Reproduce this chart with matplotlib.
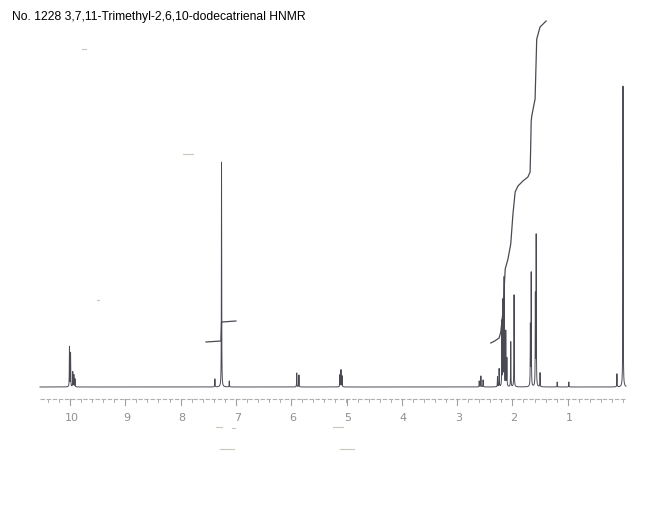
import numpy as np
import matplotlib
matplotlib.use("Agg")
import matplotlib.pyplot as plt

title = "No. 1228 3,7,11-Trimethyl-2,6,10-dodecatrienal HNMR"

# peak positions (ppm) and heights (arbitrary units, baseline = 0)
peak_ppm = [10.01, 9.99, 9.95, 9.93, 9.91,
            7.38, 7.26, 7.12,
            5.90, 5.86,
            5.12, 5.10, 5.08,
            2.60, 2.57, 2.53,
            2.27, 2.24,
            2.19, 2.17, 2.15, 2.12, 2.10,
            2.03, 1.97,
            1.675, 1.66, 1.585, 1.57, 1.50,
            1.19, 0.98, 0.11, 0.00]
peak_height = [40, 34, 15, 12, 8,
               8, 225, 6,
               14, 12,
               12, 17, 11,
               6, 11, 7,
               10, 18,
               65, 85, 108, 55, 28,
               45, 92,
               60, 113, 90, 150, 14,
               5, 5, 13, 301]

# integral curve (ppm, height)
integ_ppm = [2.39, 2.32, 2.24, 2.21, 2.17, 2.13, 2.08, 2.03, 1.99, 1.95, 1.90,
             1.81, 1.72, 1.68, 1.67, 1.66, 1.65, 1.59, 1.57, 1.56, 1.50, 1.39]
integ_height = [44, 46, 49, 55, 76, 118, 128, 143, 173, 195, 201,
                206, 210, 215, 238, 266, 271, 288, 328, 348, 360, 366]

integ2_ppm = [7.54, 7.27, 7.26, 7.25, 7.00]
integ2_height = [45, 46, 65, 65, 66]

tick_major = [10, 9, 8, 7, 6, 5, 4, 3, 2, 1]

W, H = 650, 506
fig = plt.figure(figsize=(W / 100, H / 100), dpi=100)
ax = fig.add_axes([0, 0, 1, 1])
ppm_per_px = 1 / 55.3
x_left = 10 + 70 * ppm_per_px
x_right = 10 - (W - 70) * ppm_per_px
ax.set_xlim(x_left, x_right)
ax.set_ylim(388 - H, 388)
ax.axis("off")

ppm_lo = 10 + 30 * ppm_per_px
ppm_hi = 10 - 556 * ppm_per_px
x = np.linspace(ppm_lo, ppm_hi, 40000)
y = np.zeros_like(x)
w = 0.0028
for p, h in zip(peak_ppm, peak_height):
    y += h * w**2 / ((x - p) ** 2 + w**2)

line_col = "#4a4a55"
ax.plot(x, y, color=line_col, lw=0.7)
ax.plot(integ_ppm, integ_height, color=line_col, lw=0.9)
ax.plot(integ2_ppm, integ2_height, color=line_col, lw=0.9)

# ruler
ruler_y = -12
ax.plot([ppm_lo, ppm_hi], [ruler_y, ruler_y], color="#b0b0b0", lw=0.8,
        linestyle=(0, (4, 1.5)))
minor = np.arange(10.4, -0.01, -0.2)
for t in minor:
    ax.plot([t, t], [ruler_y, ruler_y - 3], color="#b0b0b0", lw=0.7)
for t in tick_major:
    ax.plot([t, t], [ruler_y, ruler_y - 6], color="#a0a0a0", lw=0.8)
    ax.text(t - 0.03, ruler_y - 18, str(t), ha="center", va="center",
            fontsize=8, color="#8f8f8f", family="DejaVu Sans")

ax.text(x_left - 12 * ppm_per_px, 388 - 17, title,
        ha="left", va="center", fontsize=8.75, color="black",
        family="Liberation Sans")

# faint scan specks
specks = [(82, 50, 4), (183, 155, 10), (97, 301, 2), (216, 428, 6), (232, 429, 3),
          (220, 450, 14), (333, 428, 10), (340, 450, 14)]
for px, py, ln in specks:
    ax.plot([10 - (px - 70) * ppm_per_px, 10 - (px + ln - 70) * ppm_per_px],
            [388 - py, 388 - py], color="#c8c8b8", lw=0.8)

fig.savefig("out.png", dpi=100)
